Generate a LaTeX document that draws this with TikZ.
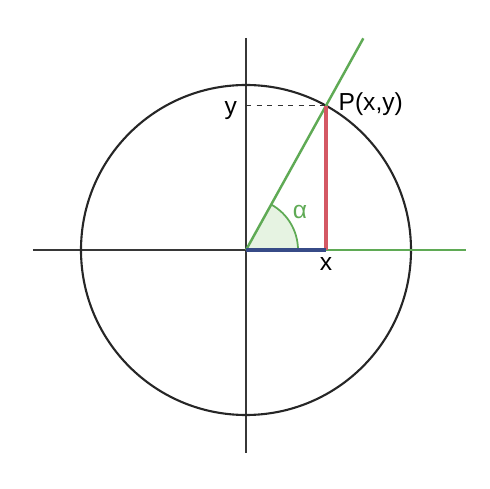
\documentclass[tikz,border=0pt]{standalone}
\usepackage{fontspec}
\setmainfont{Liberation Sans}
\usetikzlibrary{positioning}

\definecolor{axisgray}{RGB}{55,55,55}
\definecolor{anglegreen}{RGB}{95,170,85}
\definecolor{fillgreen}{RGB}{230,243,226}
\definecolor{sinred}{RGB}{212,88,100}
\definecolor{cosblue}{RGB}{55,75,135}

\begin{document}
\begin{tikzpicture}[
    x=0.02cm, y=0.02cm,
    axis/.style={draw=axisgray, line width=1pt},
    unit/.style={draw=black!85, line width=1.2pt},
    ray/.style={draw=anglegreen, line width=1.4pt},
    label/.style={font=\fontsize{14}{16}\selectfont, inner sep=1pt}
]
\useasboundingbox (-246,-239) rectangle (244,250);

% points
\coordinate (O) at (0,0);
\coordinate (P) at (61:165);
\coordinate (Px) at (P |- O);
\coordinate (Py) at (P -| O);
\coordinate (rayend) at (61:242);
\coordinate (xleft) at (-213,0);
\coordinate (xright) at (220,0);
\coordinate (ytop) at (0,212);
\coordinate (ybot) at (0,-203);

% angle
\fill[fillgreen] (O) -- (52,0) arc[start angle=0, end angle=61, radius=52] -- cycle;
\draw[anglegreen, line width=1pt] (52,0) arc[start angle=0, end angle=61, radius=52];

% axes and circle
\draw[axis] (xleft) -- (O);
\draw[axis] (ytop) -- (ybot);
\draw[unit] (O) circle[radius=165];
\draw[ray] (O) -- (xright);
\draw[ray] (O) -- (rayend);

% projections
\draw[black!80, dashed, line width=0.6pt] (Py) -- (P);
\draw[sinred, line width=2.2pt] (P) -- (Px);
\draw[cosblue, line width=2.2pt] (O) -- (Px);

% labels
\node[label, anchor=west, xshift=6pt, yshift=1pt] (Plabel) at (P) {P(x,y)};
\node[label, below=3pt of Px] (xlabel) {x};
\node[label, anchor=east, xshift=-4pt, yshift=-3pt] (ylabel) at (Py) {y};
\node[label, text=anglegreen] (alpha) at (54,38) {α};
\end{tikzpicture}
\end{document}
